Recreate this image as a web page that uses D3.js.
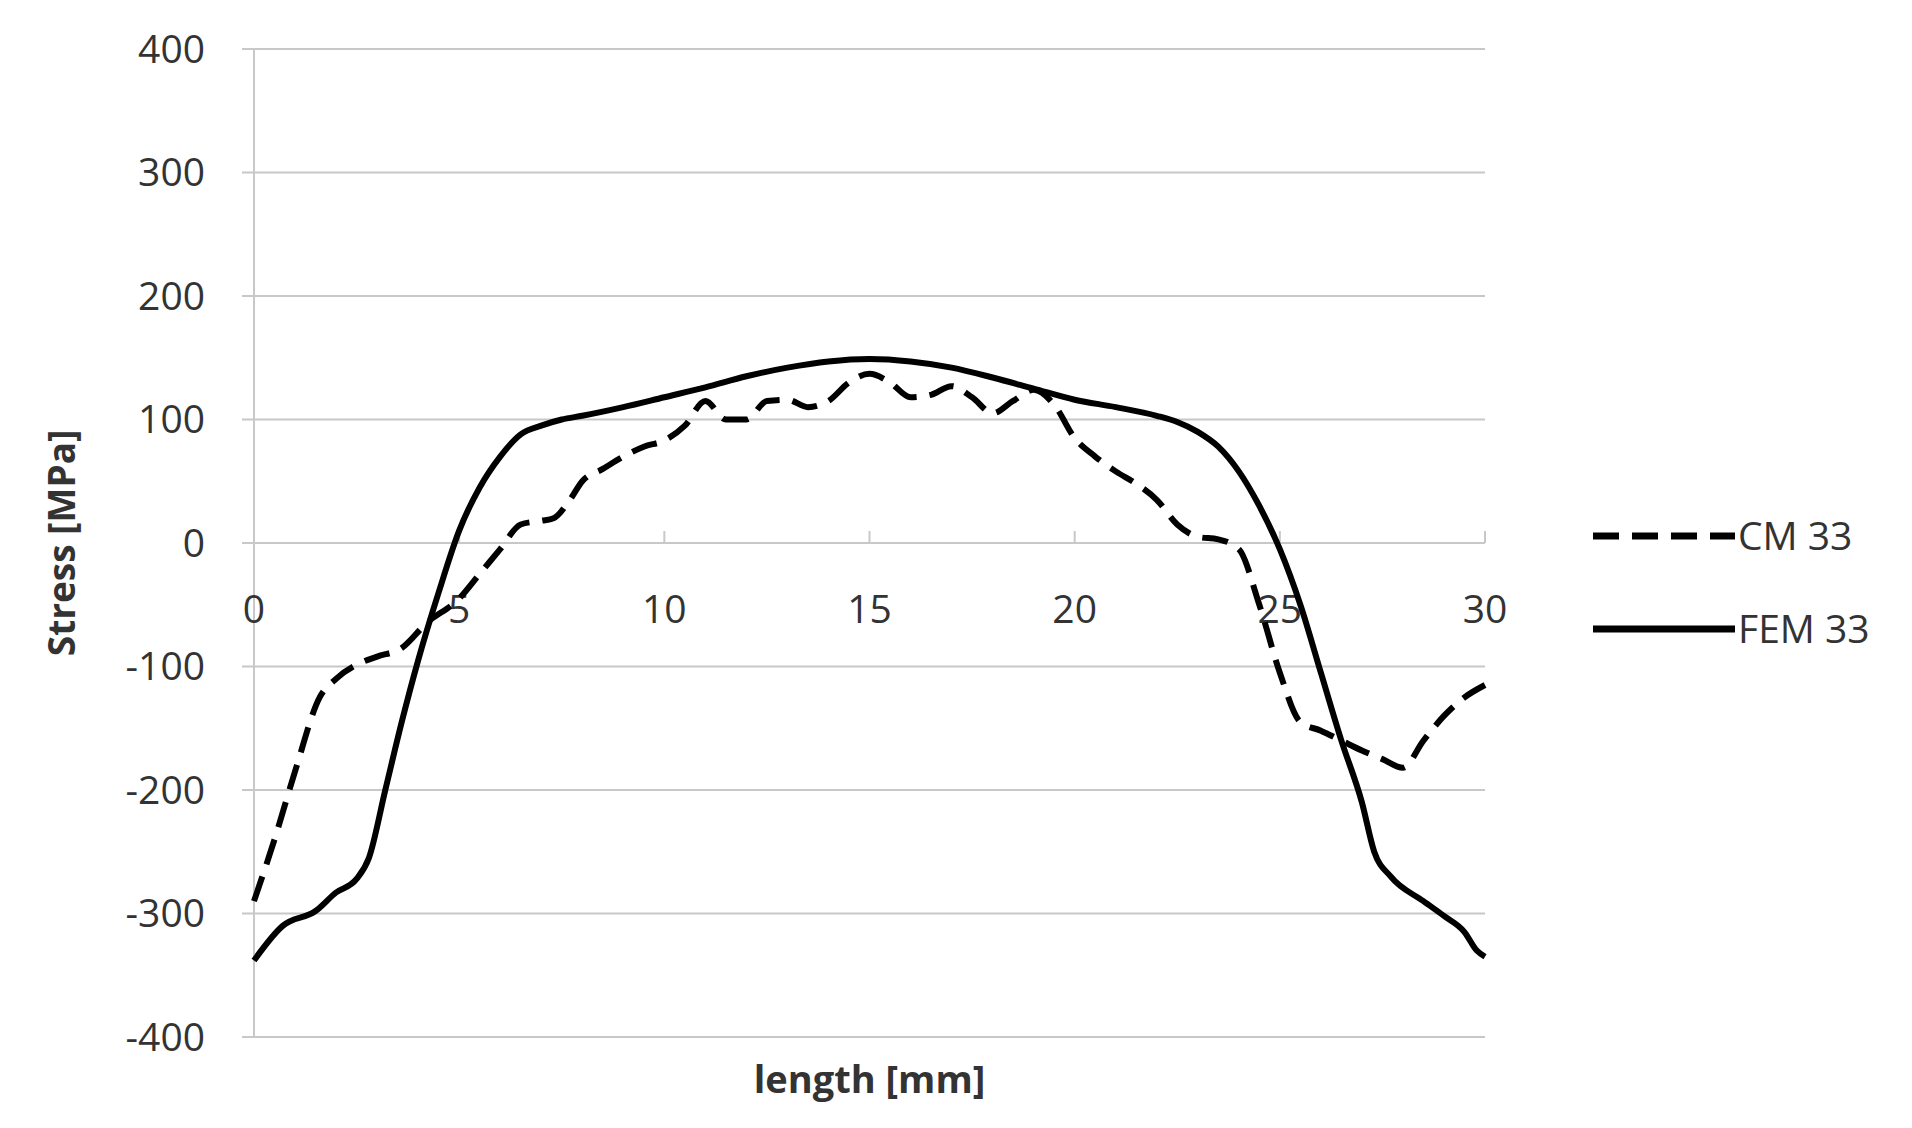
<!DOCTYPE html>
<html><head><meta charset="utf-8">
<script src="https://cdn.jsdelivr.net/npm/d3@7"></script>
<style>body{margin:0;background:#fff}text{font-family:"Open Sans",sans-serif}</style>
</head><body><svg id="c" width="1912" height="1128"></svg>
<script>
const femX = [0,0.7,1.5,2,2.5,2.8,3.2,3.6,4,4.5,5,5.5,6,6.5,7,7.5,8,9,10,11,12,13,14,15,16,17,18,19,20,21,22,22.5,23,23.5,24,24.5,25,25.5,26,26.5,27,27.3,27.7,28.5,29,29.5,29.8,30];
const femY = [-338,-310,-298,-283,-272,-255,-200,-145,-95,-40,10,45,70,88,95,100,103,110,118,126,135,142,147,149,147,142,134,125,116,110,103,98,90,78,58,30,-5,-50,-105,-160,-210,-250,-270,-290,-302,-315,-330,-335];
const cmX = [0,0.5,1,1.6,2,2.6,3,3.6,4.2,5,5.5,6,6.5,7,7.3,7.7,8,8.5,9,9.5,10,10.5,11,11.5,12,12.5,13,13.5,14,14.5,15,15.5,16,16.5,17,17.5,18,18.5,19,19.5,20,20.5,21,21.5,22,22.5,23,23.5,24,24.5,25,25.5,26,26.5,27,27.5,28,28.5,29,29.5,30];
const cmY = [-290,-240,-185,-125,-110,-97,-92,-85,-65,-45,-25,-5,15,18,20,35,50,60,70,78,83,95,115,100,100,115,116,110,115,130,137,130,118,120,127,118,105,115,124,112,85,70,58,48,35,15,5,3,-5,-50,-105,-145,-152,-160,-168,-175,-182,-160,-140,-125,-115];
const xTicks = [0,5,10,15,20,25,30];
const yTicks = [400,300,200,100,0,-100,-200,-300,-400];

const svg = d3.select('#c');
const x = d3.scaleLinear().domain([0,30]).range([254,1485]);
const y = d3.scaleLinear().domain([-400,400]).range([1037,49]);

// gridlines
svg.append('g').selectAll('line').data(yTicks).enter().append('line')
  .attr('x1', x(0) - 12).attr('x2', x(30))
  .attr('y1', d => y(d)).attr('y2', d => y(d))
  .attr('stroke', '#c8c8c8').attr('stroke-width', 2);
svg.append('line').attr('x1', x(0)).attr('x2', x(0)).attr('y1', y(400)).attr('y2', y(-400))
  .attr('stroke', '#c8c8c8').attr('stroke-width', 2);
// x tick marks on zero line
svg.append('g').selectAll('line').data(xTicks).enter().append('line')
  .attr('x1', d => x(d)).attr('x2', d => x(d)).attr('y1', y(0)).attr('y2', y(0) - 12)
  .attr('stroke', '#c8c8c8').attr('stroke-width', 2);

svg.append('g').selectAll('text').data(yTicks).enter().append('text')
  .attr('x', 205).attr('y', d => y(d)).attr('dy', '0.35em').attr('text-anchor', 'end')
  .attr('font-size', 39).attr('fill', '#333').text(d => d);
svg.append('g').selectAll('text').data(xTicks).enter().append('text')
  .attr('x', d => x(d)).attr('y', 609).attr('dy', '0.35em').attr('text-anchor', 'middle')
  .attr('font-size', 39).attr('fill', '#333').text(d => d);

svg.append('text').attr('x', x(15)).attr('y', 1080).attr('dy', '0.35em').attr('text-anchor', 'middle')
  .attr('font-size', 38).attr('font-weight', 'bold').attr('fill', '#333').text('length [mm]');
svg.append('text').attr('transform', `translate(62,${y(0)}) rotate(-90)`).attr('text-anchor', 'middle')
  .attr('dy', '0.35em').attr('font-size', 37).attr('font-weight', 'bold').attr('fill', '#333').text('Stress [MPa]');

const line = d3.line().x(d => x(d[0])).y(d => y(d[1])).curve(d3.curveMonotoneX);
svg.append('path').attr('d', line(d3.zip(cmX, cmY))).attr('fill', 'none')
  .attr('stroke', '#000').attr('stroke-width', 6).attr('stroke-dasharray', '26,13');
svg.append('path').attr('d', line(d3.zip(femX, femY))).attr('fill', 'none')
  .attr('stroke', '#000').attr('stroke-width', 6);

// legend
const leg = [['CM 33', '26,13', 536], ['FEM 33', null, 629]];
leg.forEach(([name, dash, ly]) => {
  svg.append('line').attr('x1', 1593).attr('x2', 1735).attr('y1', ly).attr('y2', ly)
    .attr('stroke', '#000').attr('stroke-width', 7).attr('stroke-dasharray', dash);
  svg.append('text').attr('x', 1738).attr('y', ly).attr('dy', '0.35em')
    .attr('font-size', 39).attr('fill', '#333').text(name);
});
</script></body></html>
